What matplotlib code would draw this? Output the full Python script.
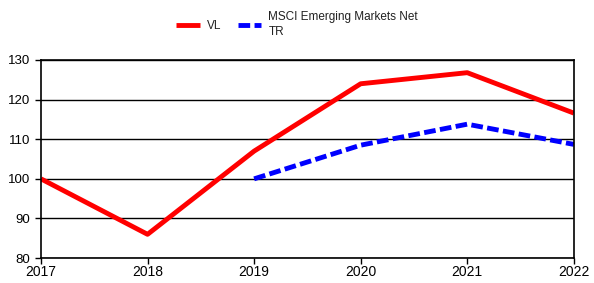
import matplotlib
matplotlib.use('Agg')
import matplotlib.pyplot as plt

plt.rcParams['font.family'] = ['Liberation Sans', 'DejaVu Sans']

years = [2017, 2018, 2019, 2020, 2021, 2022]
vl = [100, 86, 107, 124, 126.8, 116.6]
msci_years = [2019, 2020, 2021, 2022]
msci = [100, 108.5, 113.8, 108.7]

fig = plt.figure(figsize=(5.94, 2.83), dpi=100)
ax = fig.add_axes([0.069, 0.088, 0.897, 0.700])

ax.plot(years, vl, color='#ff0000', lw=3.5, label='VL', solid_capstyle='butt')
ax.plot(msci_years, msci, color='#0000ff', lw=3.5, ls=(0, (2.4, 0.9)),
        label='MSCI Emerging Markets Net\nTR')

ax.set_xlim(2017, 2022)
ax.set_ylim(80, 130)
ax.set_yticks(range(80, 131, 10))
ax.set_xticks(years)
ax.yaxis.grid(True, color='black', lw=1)
ax.set_axisbelow(True)
for s in ax.spines.values():
    s.set_linewidth(1.2)
    s.set_color('black')
ax.tick_params(axis='both', labelsize=9.5, length=4, width=1, direction='out', color='black')
ax.tick_params(axis='x', labelsize=10, pad=1)

leg = fig.legend(loc='upper center', bbox_to_anchor=(0.5, 1.0), ncol=2, frameon=False,
                 fontsize=8.5, handlelength=2.0, columnspacing=1.4, handletextpad=0.6)
for t in leg.get_texts():
    t.set_linespacing(1.4)
    t.set_color('#222222')

fig.savefig('out.png', dpi=100)
